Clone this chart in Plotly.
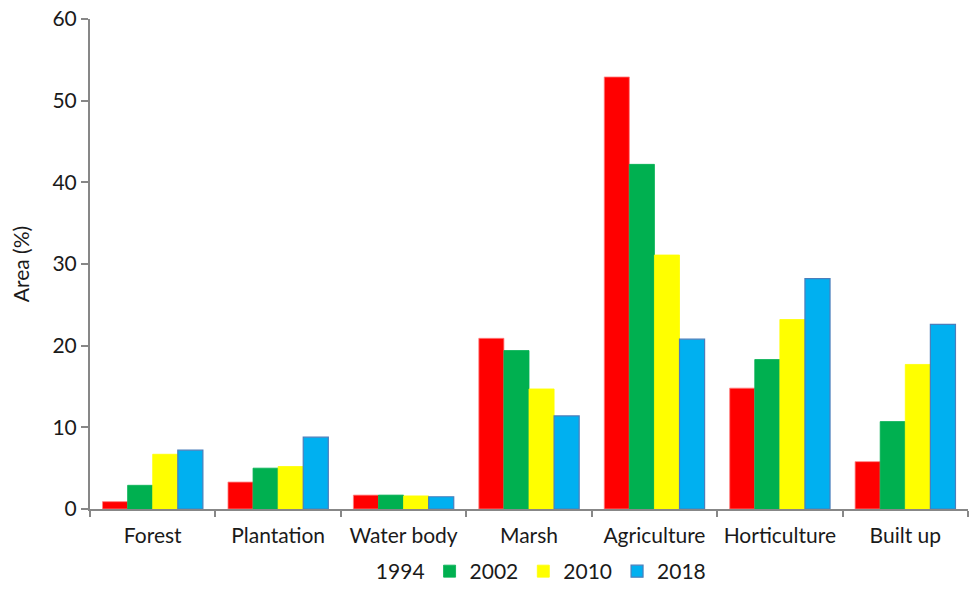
import plotly.graph_objects as go

# Land use / land cover classes
categories = ["Forest", "Plantation", "Water body", "Marsh", "Agriculture", "Horticulture", "Built up"]

# Share of total area (%) per year
area_1994 = [0.9, 3.3, 1.7, 20.9, 52.9, 14.8, 5.8]
area_2002 = [2.9, 5.0, 1.7, 19.4, 42.2, 18.3, 10.7]
area_2010 = [6.7, 5.2, 1.6, 14.7, 31.1, 23.2, 17.7]
area_2018 = [7.2, 8.8, 1.5, 11.4, 20.8, 28.2, 22.6]

years = ["1994", "2002", "2010", "2018"]
series = [area_1994, area_2002, area_2010, area_2018]
fills = ["#FF0000", "#00B050", "#FFFF00", "#00B0F0"]
edges = ["#FF8080", "#00B050", "#FFFF00", "#4A7EBB"]

font_family = "Lato, Arial Narrow, sans-serif"

fig = go.Figure()
for i, (name, vals, fc, ec) in enumerate(zip(years, series, fills, edges)):
    fig.add_trace(go.Bar(
        x=categories, y=vals, name=name,
        marker=dict(color=fc, line=dict(color=ec, width=1.2 if i == 3 else 0.8)),
        showlegend=(i != 0),
        legendrank=i + 1,
    ))

# 1994 key is shown as text only
fig.add_trace(go.Scatter(
    x=[None], y=[None], mode="markers", name="1994",
    marker=dict(symbol="square", size=12, color="rgba(0,0,0,0)"),
    legendrank=0,
))

fig.update_layout(
    width=972, height=592,
    margin=dict(l=90, r=4, t=19, b=83, autoexpand=False),
    paper_bgcolor="white", plot_bgcolor="white",
    barmode="group", bargap=0.2, bargroupgap=0,
    font=dict(family=font_family, size=21, color="#1a1a1a"),
    legend=dict(
        orientation="h", x=0.28, xanchor="left",
        yref="container", y=-0.01, yanchor="bottom",
        font=dict(size=21), itemwidth=30, traceorder="normal",
    ),
)

fig.update_xaxes(
    showline=True, linecolor="#878787", linewidth=2,
    ticks="outside", tickson="boundaries", ticklen=6, tickcolor="#878787", tickwidth=1.5,
    tickfont=dict(size=21), tickangle=0, showgrid=False, ticklabelstandoff=7,
)
fig.update_yaxes(
    range=[0, 60], dtick=10,
    showline=True, linecolor="#878787", linewidth=2,
    ticks="outside", ticklen=7, tickcolor="#878787", tickwidth=1.5,
    tickfont=dict(size=21), showgrid=False, zeroline=False,
    title=dict(text="Area (%)", font=dict(size=21), standoff=17),
)

fig.write_html("out.html")
